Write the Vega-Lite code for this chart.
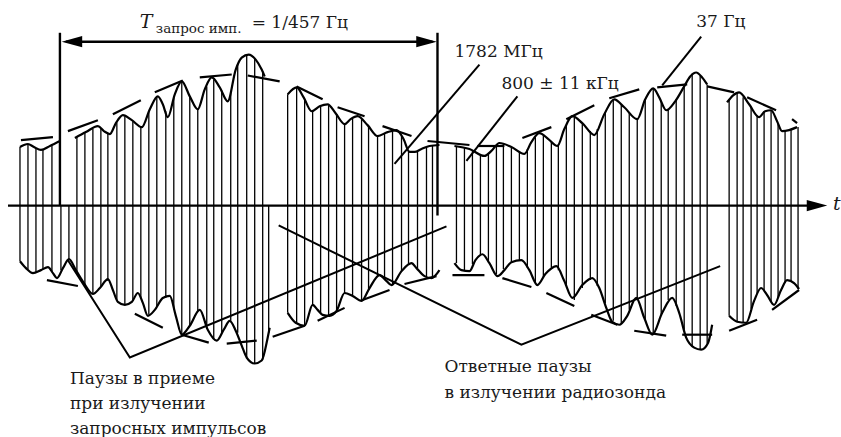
{
  "$schema": "https://vega.github.io/schema/vega-lite/v6.json",
  "width": 841,
  "height": 437,
  "autosize": {"type": "fit", "contains": "padding"},
  "padding": 0,
  "background": "white",
  "config": {"view": {"stroke": null}},
  "datasets": {
    "carrier": [
      {"t":20,"top":148,"bot":263},{"t":28,"top":145,"bot":271},{"t":36,"top":149,"bot":274},{"t":43,"top":150,"bot":271},{"t":52,"top":146,"bot":274},
      {"t":61,"top":207,"bot":272},{"t":69,"top":207,"bot":261},
      {"t":77,"top":138,"bot":273},{"t":85,"top":134,"bot":286},{"t":93,"top":130,"bot":296},{"t":101,"top":129,"bot":289},{"t":108,"top":134,"bot":283},
      {"t":117,"top":123,"bot":302},{"t":125,"top":117,"bot":307},{"t":133,"top":122,"bot":303},{"t":141,"top":127,"bot":300},{"t":149,"top":112,"bot":317},
      {"t":157,"top":98,"bot":309},{"t":166,"top":112,"bot":300},{"t":174,"top":98,"bot":312},{"t":182,"top":82,"bot":337},{"t":190,"top":97,"bot":328},
      {"t":198,"top":110,"bot":314},{"t":207,"top":87,"bot":328},{"t":214,"top":80,"bot":341},{"t":222,"top":91,"bot":335},{"t":231,"top":92,"bot":323},
      {"t":238,"top":64,"bot":335},{"t":247,"top":55,"bot":360},{"t":255,"top":59,"bot":366},{"t":263,"top":72,"bot":362},{"t":269,"top":207,"bot":335},
      {"t":288,"top":95,"bot":315},{"t":297,"top":88,"bot":325},{"t":305,"top":100,"bot":328},{"t":313,"top":112,"bot":308},{"t":321,"top":107,"bot":316},
      {"t":329,"top":106,"bot":318},{"t":337,"top":115,"bot":313},{"t":345,"top":125,"bot":296},{"t":353,"top":119,"bot":298},{"t":362,"top":120,"bot":303},
      {"t":369,"top":127,"bot":291},{"t":378,"top":137,"bot":279},{"t":385,"top":134,"bot":282},{"t":393,"top":132,"bot":287},{"t":402,"top":137,"bot":274},
      {"t":409,"top":151,"bot":266},{"t":418,"top":152,"bot":270},{"t":427,"top":148,"bot":278},{"t":433,"top":147,"bot":280},
      {"t":457,"top":147,"bot":265},{"t":465,"top":149,"bot":273},{"t":473,"top":152,"bot":266},{"t":481,"top":155,"bot":257},{"t":489,"top":154,"bot":264},
      {"t":497,"top":146,"bot":276},{"t":504,"top":145,"bot":271},{"t":512,"top":148,"bot":264},{"t":520,"top":152,"bot":262},{"t":528,"top":150,"bot":270},
      {"t":536,"top":138,"bot":284},{"t":544,"top":137,"bot":279},{"t":552,"top":142,"bot":269},{"t":559,"top":145,"bot":272},{"t":567,"top":126,"bot":287},
      {"t":575,"top":118,"bot":302},{"t":583,"top":124,"bot":290},{"t":591,"top":132,"bot":282},{"t":598,"top":130,"bot":288},{"t":606,"top":113,"bot":305},
      {"t":614,"top":101,"bot":323},{"t":622,"top":105,"bot":326},{"t":630,"top":113,"bot":312},{"t":638,"top":120,"bot":300},{"t":646,"top":100,"bot":322},
      {"t":654,"top":89,"bot":337},{"t":662,"top":102,"bot":317},{"t":669,"top":110,"bot":302},{"t":677,"top":100,"bot":308},{"t":685,"top":87,"bot":332},
      {"t":693,"top":74,"bot":349},{"t":701,"top":76,"bot":352},{"t":708,"top":85,"bot":346},
      {"t":730,"top":100,"bot":318},{"t":738,"top":94,"bot":324},{"t":744,"top":98,"bot":325},{"t":752,"top":108,"bot":311},{"t":758,"top":116,"bot":296},
      {"t":765,"top":112,"bot":293},{"t":772,"top":111,"bot":304},{"t":779,"top":124,"bot":300},{"t":786,"top":132,"bot":285},{"t":792,"top":130,"bot":283},
      {"t":799,"top":128,"bot":291}
    ],
    "env": [
      {"s":"U1","t":20,"y":148},{"s":"U1","t":24,"y":146},{"s":"U1","t":28,"y":145},{"s":"U1","t":34,"y":148},{"s":"U1","t":41,"y":151},{"s":"U1","t":50,"y":147},{"s":"U1","t":60,"y":142},
      {"s":"U2","t":75,"y":139},{"s":"U2","t":86,"y":133},{"s":"U2","t":98,"y":127},{"s":"U2","t":104,"y":132},{"s":"U2","t":110,"y":135},{"s":"U2","t":116,"y":124},
      {"s":"U2","t":123,"y":116},{"s":"U2","t":132,"y":121},{"s":"U2","t":142,"y":128},{"s":"U2","t":150,"y":110},{"s":"U2","t":158,"y":97},{"s":"U2","t":163,"y":105},
      {"s":"U2","t":168,"y":118},{"s":"U2","t":175,"y":95},{"s":"U2","t":182,"y":82},{"s":"U2","t":190,"y":97},{"s":"U2","t":198,"y":110},{"s":"U2","t":205,"y":90},
      {"s":"U2","t":212,"y":78},{"s":"U2","t":220,"y":88},{"s":"U2","t":228,"y":102},{"s":"U2","t":236,"y":70},{"s":"U2","t":242,"y":58},{"s":"U2","t":249,"y":55},
      {"s":"U2","t":256,"y":60},{"s":"U2","t":262,"y":70},{"s":"U2","t":265,"y":77},
      {"s":"U3","t":288,"y":95},{"s":"U3","t":297,"y":88},{"s":"U3","t":304,"y":98},{"s":"U3","t":312,"y":112},{"s":"U3","t":320,"y":107},{"s":"U3","t":328,"y":105},
      {"s":"U3","t":336,"y":114},{"s":"U3","t":345,"y":125},{"s":"U3","t":351,"y":120},{"s":"U3","t":358,"y":117},{"s":"U3","t":368,"y":126},{"s":"U3","t":378,"y":137},
      {"s":"U3","t":388,"y":133},{"s":"U3","t":397,"y":131},{"s":"U3","t":404,"y":140},{"s":"U3","t":410,"y":153},{"s":"U3","t":415,"y":153},{"s":"U3","t":422,"y":150},
      {"s":"U3","t":430,"y":147},{"s":"U3","t":440,"y":146},
      {"s":"U4","t":455,"y":147},{"s":"U4","t":470,"y":150},{"s":"U4","t":485,"y":157},{"s":"U4","t":492,"y":152},{"s":"U4","t":500,"y":144},{"s":"U4","t":512,"y":148},
      {"s":"U4","t":525,"y":155},{"s":"U4","t":532,"y":143},{"s":"U4","t":540,"y":134},{"s":"U4","t":549,"y":140},{"s":"U4","t":558,"y":147},{"s":"U4","t":565,"y":130},
      {"s":"U4","t":573,"y":117},{"s":"U4","t":583,"y":124},{"s":"U4","t":595,"y":136},{"s":"U4","t":605,"y":115},{"s":"U4","t":615,"y":100},{"s":"U4","t":625,"y":108},
      {"s":"U4","t":638,"y":120},{"s":"U4","t":646,"y":100},{"s":"U4","t":654,"y":89},{"s":"U4","t":660,"y":98},{"s":"U4","t":667,"y":111},{"s":"U4","t":676,"y":102},
      {"s":"U4","t":685,"y":87},{"s":"U4","t":691,"y":77},{"s":"U4","t":697,"y":73},{"s":"U4","t":703,"y":78},{"s":"U4","t":708,"y":85},
      {"s":"U5","t":728,"y":103},{"s":"U5","t":734,"y":96},{"s":"U5","t":740,"y":93},{"s":"U5","t":750,"y":105},{"s":"U5","t":760,"y":118},{"s":"U5","t":766,"y":112},
      {"s":"U5","t":772,"y":111},{"s":"U5","t":778,"y":122},{"s":"U5","t":783,"y":132},{"s":"U5","t":790,"y":131},{"s":"U5","t":798,"y":128},
      {"s":"L1","t":20,"y":263},{"s":"L1","t":26,"y":270},{"s":"L1","t":33,"y":275},{"s":"L1","t":41,"y":272},{"s":"L1","t":48,"y":269},{"s":"L1","t":53,"y":275},
      {"s":"L1","t":57,"y":280},{"s":"L1","t":63,"y":270},{"s":"L1","t":69,"y":261},{"s":"L1","t":76,"y":272},{"s":"L1","t":84,"y":285},{"s":"L1","t":93,"y":296},
      {"s":"L1","t":100,"y":290},{"s":"L1","t":108,"y":281},{"s":"L1","t":113,"y":292},{"s":"L1","t":118,"y":304},{"s":"L1","t":125,"y":307},{"s":"L1","t":132,"y":304},
      {"s":"L1","t":138,"y":295},{"s":"L1","t":143,"y":305},{"s":"L1","t":148,"y":318},{"s":"L1","t":155,"y":312},{"s":"L1","t":163,"y":300},{"s":"L1","t":170,"y":298},
      {"s":"L1","t":176,"y":318},{"s":"L1","t":182,"y":337},{"s":"L1","t":190,"y":328},{"s":"L1","t":200,"y":312},{"s":"L1","t":208,"y":332},{"s":"L1","t":217,"y":343},
      {"s":"L1","t":224,"y":332},{"s":"L1","t":230,"y":323},{"s":"L1","t":236,"y":333},{"s":"L1","t":242,"y":348},{"s":"L1","t":247,"y":360},{"s":"L1","t":255,"y":366},
      {"s":"L1","t":262,"y":363},{"s":"L1","t":268,"y":340},{"s":"L1","t":270,"y":330},
      {"s":"L2","t":288,"y":315},{"s":"L2","t":296,"y":325},{"s":"L2","t":305,"y":328},{"s":"L2","t":313,"y":307},{"s":"L2","t":318,"y":312},{"s":"L2","t":323,"y":317},
      {"s":"L2","t":330,"y":318},{"s":"L2","t":337,"y":313},{"s":"L2","t":345,"y":295},{"s":"L2","t":353,"y":298},{"s":"L2","t":362,"y":303},{"s":"L2","t":370,"y":290},
      {"s":"L2","t":380,"y":277},{"s":"L2","t":386,"y":282},{"s":"L2","t":392,"y":287},{"s":"L2","t":402,"y":273},{"s":"L2","t":412,"y":265},{"s":"L2","t":417,"y":270},
      {"s":"L2","t":425,"y":278},{"s":"L2","t":432,"y":280},{"s":"L2","t":440,"y":272},
      {"s":"L3","t":455,"y":265},{"s":"L3","t":462,"y":272},{"s":"L3","t":470,"y":273},{"s":"L3","t":476,"y":262},{"s":"L3","t":483,"y":256},{"s":"L3","t":490,"y":265},
      {"s":"L3","t":498,"y":278},{"s":"L3","t":505,"y":272},{"s":"L3","t":512,"y":264},{"s":"L3","t":522,"y":262},{"s":"L3","t":530,"y":272},{"s":"L3","t":538,"y":287},
      {"s":"L3","t":546,"y":276},{"s":"L3","t":557,"y":268},{"s":"L3","t":565,"y":283},{"s":"L3","t":573,"y":300},{"s":"L3","t":583,"y":287},{"s":"L3","t":593,"y":280},
      {"s":"L3","t":600,"y":290},{"s":"L3","t":607,"y":310},{"s":"L3","t":613,"y":324},{"s":"L3","t":620,"y":327},{"s":"L3","t":628,"y":318},{"s":"L3","t":637,"y":300},
      {"s":"L3","t":645,"y":320},{"s":"L3","t":653,"y":337},{"s":"L3","t":663,"y":315},{"s":"L3","t":673,"y":300},{"s":"L3","t":680,"y":315},{"s":"L3","t":687,"y":340},
      {"s":"L3","t":695,"y":350},{"s":"L3","t":702,"y":352},{"s":"L3","t":709,"y":345},{"s":"L3","t":713,"y":327},
      {"s":"L4","t":730,"y":318},{"s":"L4","t":738,"y":324},{"s":"L4","t":747,"y":325},{"s":"L4","t":755,"y":303},{"s":"L4","t":762,"y":290},{"s":"L4","t":768,"y":297},
      {"s":"L4","t":775,"y":307},{"s":"L4","t":782,"y":292},{"s":"L4","t":788,"y":282},{"s":"L4","t":795,"y":285},{"s":"L4","t":800,"y":291}
    ],
    "tan": [
      {"s":"d1","t":21,"y":141},{"s":"d1","t":53,"y":138},
      {"s":"d2","t":68,"y":132},{"s":"d2","t":98,"y":121},
      {"s":"d3","t":113,"y":115},{"s":"d3","t":141,"y":101},
      {"s":"d4","t":155,"y":93},{"s":"d4","t":183,"y":81},
      {"s":"d5","t":200,"y":78},{"s":"d5","t":232,"y":75},
      {"s":"d6","t":248,"y":76},{"s":"d6","t":280,"y":82},
      {"s":"d7","t":297,"y":87},{"s":"d7","t":323,"y":100},
      {"s":"d8","t":338,"y":108},{"s":"d8","t":365,"y":117},
      {"s":"d9","t":383,"y":127},{"s":"d9","t":412,"y":137},
      {"s":"d10","t":428,"y":142},{"s":"d10","t":470,"y":146},
      {"s":"d11","t":478,"y":147},{"s":"d11","t":505,"y":147},
      {"s":"d12","t":523,"y":139},{"s":"d12","t":552,"y":128},
      {"s":"d13","t":567,"y":120},{"s":"d13","t":595,"y":106},
      {"s":"d14","t":610,"y":99},{"s":"d14","t":640,"y":90},
      {"s":"d15","t":658,"y":88},{"s":"d15","t":688,"y":85},
      {"s":"d16","t":708,"y":87},{"s":"d16","t":735,"y":93},
      {"s":"d17","t":748,"y":98},{"s":"d17","t":777,"y":111},
      {"s":"d18","t":793,"y":120},{"s":"d18","t":798,"y":124},
      {"s":"e1","t":47,"y":282},{"s":"e1","t":78,"y":288},
      {"s":"e2","t":135,"y":316},{"s":"e2","t":163,"y":330},
      {"s":"e3","t":182,"y":337},{"s":"e3","t":209,"y":345},
      {"s":"e4","t":227,"y":346},{"s":"e4","t":257,"y":343},
      {"s":"e5","t":273,"y":339},{"s":"e5","t":305,"y":328},
      {"s":"e6","t":318,"y":323},{"s":"e6","t":345,"y":310},
      {"s":"e7","t":363,"y":302},{"s":"e7","t":390,"y":292},
      {"s":"e8","t":405,"y":286},{"s":"e8","t":437,"y":278},
      {"s":"e9","t":453,"y":277},{"s":"e9","t":485,"y":277},
      {"s":"e10","t":503,"y":280},{"s":"e10","t":532,"y":289},
      {"s":"e11","t":547,"y":295},{"s":"e11","t":575,"y":308},
      {"s":"e12","t":592,"y":317},{"s":"e12","t":618,"y":327},
      {"s":"e13","t":635,"y":333},{"s":"e13","t":667,"y":338},
      {"s":"e14","t":683,"y":337},{"s":"e14","t":713,"y":337},
      {"s":"e15","t":730,"y":333},{"s":"e15","t":758,"y":322},
      {"s":"e16","t":773,"y":312},{"s":"e16","t":800,"y":292}
    ],
    "lead": [
      {"s":"a","o":1,"t":395,"y":165},{"s":"a","o":2,"t":480,"y":65},
      {"s":"b","o":1,"t":467,"y":162},{"s":"b","o":2,"t":518,"y":97},
      {"s":"c","o":1,"t":663,"y":86},{"s":"c","o":2,"t":702,"y":37},
      {"s":"d","o":1,"t":68,"y":262},{"s":"d","o":2,"t":130,"y":360},{"s":"d","o":3,"t":447,"y":228},
      {"s":"e","o":1,"t":279,"y":227},{"s":"e","o":2,"t":522,"y":347},{"s":"e","o":3,"t":721,"y":268}
    ],
    "frame": [
      {"s":"axis","o":1,"t":8,"y":207},{"s":"axis","o":2,"t":812,"y":207},
      {"s":"span","o":1,"t":66,"y":42},{"s":"span","o":2,"t":433,"y":42},
      {"s":"tl","o":1,"t":60,"y":33},{"s":"tl","o":2,"t":60,"y":207},
      {"s":"tr","o":1,"t":438,"y":33},{"s":"tr","o":2,"t":438,"y":217}
    ],
    "headR": [{"t":818,"y":207},{"t":427,"y":42}],
    "headL": [{"t":72,"y":42}],
    "txtMain": [
      {"label":"= 1/457 Гц","t":252,"y":28},
      {"label":"1782 МГц","t":455,"y":57},
      {"label":"800 ± 11 кГц","t":502,"y":90},
      {"label":"37 Гц","t":697,"y":27},
      {"label":"Паузы в приеме","t":70,"y":387},
      {"label":"при излучении","t":70,"y":412},
      {"label":"запросных импульсов","t":70,"y":437},
      {"label":"Ответные паузы","t":445,"y":375},
      {"label":"в излучении радиозонда","t":445,"y":401}
    ],
    "txtItalic": [
      {"label":"T","t":140,"y":28},
      {"label":"t","t":834,"y":211}
    ],
    "txtSub": [
      {"label":"запрос имп.","t":156,"y":33}
    ]
  },
  "layer": [
    {
      "data": {"name": "carrier"},
      "mark": {"type": "rule", "color": "black", "strokeWidth": 1.3},
      "encoding": {
        "x": {"field": "t", "type": "quantitative", "scale": {"domain": [0, 841], "nice": false, "zero": false}, "axis": null},
        "y": {"field": "top", "type": "quantitative", "scale": {"domain": [0, 437], "reverse": true, "nice": false, "zero": false}, "axis": null},
        "y2": {"field": "bot"}
      }
    },
    {
      "data": {"name": "env"},
      "mark": {"type": "line", "color": "black", "strokeWidth": 2.2, "interpolate": "monotone"},
      "encoding": {
        "x": {"field": "t", "type": "quantitative"},
        "y": {"field": "y", "type": "quantitative"},
        "detail": {"field": "s"}
      }
    },
    {
      "data": {"name": "tan"},
      "mark": {"type": "line", "color": "black", "strokeWidth": 2.2},
      "encoding": {
        "x": {"field": "t", "type": "quantitative"},
        "y": {"field": "y", "type": "quantitative"},
        "detail": {"field": "s"}
      }
    },
    {
      "data": {"name": "lead"},
      "mark": {"type": "line", "color": "black", "strokeWidth": 2},
      "encoding": {
        "x": {"field": "t", "type": "quantitative"},
        "y": {"field": "y", "type": "quantitative"},
        "detail": {"field": "s"},
        "order": {"field": "o"}
      }
    },
    {
      "data": {"name": "frame"},
      "mark": {"type": "line", "color": "black", "strokeWidth": 2.4},
      "encoding": {
        "x": {"field": "t", "type": "quantitative"},
        "y": {"field": "y", "type": "quantitative"},
        "detail": {"field": "s"},
        "order": {"field": "o"}
      }
    },
    {
      "data": {"name": "headR"},
      "mark": {"type": "point", "shape": "M 1 0 L -1 -0.55 L -1 0.55 Z", "filled": true, "color": "black", "opacity": 1, "size": 420, "strokeWidth": 0},
      "encoding": {
        "x": {"field": "t", "type": "quantitative"},
        "y": {"field": "y", "type": "quantitative"}
      }
    },
    {
      "data": {"name": "headL"},
      "mark": {"type": "point", "shape": "M -1 0 L 1 -0.55 L 1 0.55 Z", "filled": true, "color": "black", "opacity": 1, "size": 420, "strokeWidth": 0},
      "encoding": {
        "x": {"field": "t", "type": "quantitative"},
        "y": {"field": "y", "type": "quantitative"}
      }
    },
    {
      "data": {"name": "txtMain"},
      "mark": {"type": "text", "align": "left", "baseline": "alphabetic", "font": "DejaVu Serif", "fontSize": 17, "color": "#1a1a1a"},
      "encoding": {
        "x": {"field": "t", "type": "quantitative"},
        "y": {"field": "y", "type": "quantitative"},
        "text": {"field": "label"}
      }
    },
    {
      "data": {"name": "txtItalic"},
      "mark": {"type": "text", "align": "left", "baseline": "alphabetic", "font": "DejaVu Serif", "fontSize": 19, "fontStyle": "italic", "color": "#1a1a1a"},
      "encoding": {
        "x": {"field": "t", "type": "quantitative"},
        "y": {"field": "y", "type": "quantitative"},
        "text": {"field": "label"}
      }
    },
    {
      "data": {"name": "txtSub"},
      "mark": {"type": "text", "align": "left", "baseline": "alphabetic", "font": "DejaVu Serif", "fontSize": 13.5, "color": "#1a1a1a"},
      "encoding": {
        "x": {"field": "t", "type": "quantitative"},
        "y": {"field": "y", "type": "quantitative"},
        "text": {"field": "label"}
      }
    }
  ]
}
